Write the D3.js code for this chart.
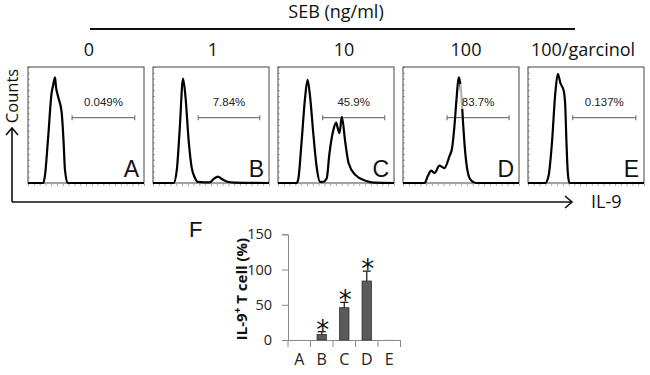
<!DOCTYPE html>
<html>
<head>
<meta charset="utf-8">
<script src="https://cdn.jsdelivr.net/npm/d3@7"></script>
<style>
  body { margin: 0; background: #fff; }
  svg { display: block; font-family: "Open Sans", sans-serif; }
</style>
</head>
<body>
<svg id="fig" width="650" height="375"></svg>
<script>
const panels = ['A', 'B', 'C', 'D', 'E']
const doses = ['0', '1', '10', '100', '100/garcinol']
const gatePct = ['0.049%', '7.84%', '45.9%', '83.7%', '0.137%']
const gateFrom = [38, 39, 38.5, 38, 38.5]
const gateTo = [92, 92, 92, 91.5, 93]

// histogram traces : [IL-9 intensity (0-100 of panel width), counts (% of panel height)]
const histA = [[0, 0], [13.2, 0], [14.7, 7], [17.2, 37], [20.4, 78], [21.6, 84], [23.3, 91], [24.1, 83],
  [26.1, 74], [29, 61], [30.6, 37], [31.9, 11], [34.2, 0], [100, 0]]
const histB = [[0, 0], [17.8, 0], [20.5, 11], [23, 46], [25.9, 90], [28.2, 72], [30.7, 37], [33.4, 13],
  [35.9, 5], [38.8, 1], [48.9, 0.5], [52.3, 3.5], [56, 5.5], [59.2, 3.5], [63.5, 1.3], [70, 0.4], [100, 0]]
const histC = [[0, 0], [15.9, 0], [17.4, 3], [20.3, 35], [23.2, 72], [25.5, 89], [27.6, 75], [30.4, 43],
  [33.3, 14], [36.3, 1], [39, 1], [42, 4], [44.3, 25], [47.8, 46], [50.2, 52], [51.3, 48], [53, 43],
  [55, 57], [58, 35], [60.9, 17], [66.7, 7], [75.4, 2], [82.6, 0.3], [100, 0]]
const histD = [[0, 0], [18.6, 0], [21.4, 6], [24.3, 10.6], [27.2, 8.6], [31.4, 14.9], [35.7, 12.9],
  [40, 22.9], [42.3, 30], [44.3, 48.6], [46.3, 74.3], [48, 91], [49.2, 87], [50.6, 71.4], [52, 48.6],
  [53.7, 25.7], [55.7, 10], [58.6, 2.3], [62.9, 0], [100, 0]]
const histE = [[0, 0], [14.9, 0], [17.7, 6], [20.6, 34], [23.5, 77], [25.7, 94], [28, 86], [30.9, 79],
  [32, 69], [33.2, 34], [34.3, 9], [35.7, 0], [100, 0]]

// panel F
const pctMean = [0.049, 7.84, 45.9, 83.7, 0.137]
const pctErr = [0, 4, 7.5, 14, 0]
const signif = [false, true, true, true, false]
const yTicks = [0, 50, 100, 150]

const svg = d3.select('#fig')
svg.append('rect').attr('width', 650).attr('height', 375).attr('fill', '#fff')

// ---- histogram row ----
const pTop = 67, pBot = 183
const px = d3.scaleBand().domain(panels).range([28, 644]).paddingInner(0.072)
const hx = d3.scaleLinear().domain([0, 100]).range([0, px.bandwidth()])
const hy = d3.scaleLinear().domain([0, 100]).range([pBot - pTop, 0])
const line = d3.line()
  .x(d => hx(d[0]))
  .y(d => hy(d[1]))
  .curve(d3.curveMonotoneX)
const hists = [histA, histB, histC, histD, histE]
const doseDx = [3, 2, 8, 5, -3] // label offsets as in the figure
const gateY = 50.7

panels.forEach((p, i) => {
  const g = svg.append('g').attr('transform', `translate(${px(p)},${pTop})`)

  g.append('g')
    .attr('class', 'minor')
    .attr('transform', `translate(0,${pBot - pTop + 1})`)
    .call(d3.axisBottom(hx).ticks(20).tickSize(2).tickFormat(''))
  g.append('g')
    .attr('class', 'minor')
    .call(d3.axisRight(hy).ticks(20).tickSize(2).tickFormat(''))
  g.selectAll('.minor .domain').remove()
  g.selectAll('.minor line').attr('stroke', '#aaa')

  g.append('rect')
    .attr('width', px.bandwidth())
    .attr('height', pBot - pTop)
    .attr('fill', 'none')
    .attr('stroke', '#444')
    .attr('stroke-width', 1)

  // gate
  const gate = g.append('g').attr('stroke', '#777').attr('stroke-width', 1.2)
  gate.append('line').attr('x1', hx(gateFrom[i])).attr('x2', hx(gateTo[i])).attr('y1', gateY).attr('y2', gateY)
  gate.selectAll('.cap')
    .data([gateFrom[i], gateTo[i]])
    .enter()
    .append('line')
    .attr('x1', d => hx(d)).attr('x2', d => hx(d))
    .attr('y1', gateY - 2.5).attr('y2', gateY + 2.5)

  g.append('path')
    .datum(hists[i])
    .attr('d', line)
    .attr('fill', 'none')
    .attr('stroke', '#000')
    .attr('stroke-width', 2.2)

  const cx = (hx(gateFrom[i]) + hx(gateTo[i])) / 2
  const bg = g.append('rect').attr('fill', '#fff').attr('opacity', 0.7)
  const lbl = g.append('text')
    .attr('x', cx)
    .attr('y', 106 - pTop)
    .attr('text-anchor', 'middle')
    .attr('font-family', 'Liberation Sans, Arial, sans-serif')
    .attr('font-size', 11.5)
    .attr('fill', '#222')
    .text(gatePct[i])
  const bb = lbl.node().getBBox()
  bg.attr('x', bb.x - 2).attr('y', bb.y - 12).attr('width', bb.width + 4).attr('height', bb.height + 13)

  g.append('text')
    .attr('x', px.bandwidth() - 5)
    .attr('y', 177 - pTop)
    .attr('text-anchor', 'end')
    .attr('font-family', 'Liberation Sans, Arial, sans-serif')
    .attr('font-size', 23)
    .attr('fill', '#111')
    .text(p)

  svg.append('text')
    .attr('x', px(p) + px.bandwidth() / 2 + doseDx[i])
    .attr('y', 56)
    .attr('text-anchor', 'middle')
    .attr('font-size', 18)
    .attr('fill', '#111')
    .text(doses[i])
})

svg.append('text')
  .attr('x', 336)
  .attr('y', 18)
  .attr('text-anchor', 'middle')
  .attr('font-size', 18)
  .attr('fill', '#111')
  .text('SEB (ng/ml)')
svg.append('line')
  .attr('x1', 90).attr('x2', 575).attr('y1', 29).attr('y2', 29)
  .attr('stroke', '#111').attr('stroke-width', 2)

// big axes with arrows
const ax = svg.append('g').attr('stroke', '#111').attr('stroke-width', 1.6).attr('fill', 'none')
ax.append('path').attr('d', 'M12,202V128M6,135L12,128L18,135')
ax.append('path').attr('d', 'M12,202H572M565,196L572,202L565,208')
svg.append('text')
  .attr('transform', 'translate(18,96) rotate(-90)')
  .attr('text-anchor', 'middle')
  .attr('font-size', 16.5)
  .attr('fill', '#111')
  .text('Counts')
svg.append('text')
  .attr('x', 591)
  .attr('y', 208)
  .attr('font-size', 18)
  .attr('fill', '#111')
  .text('IL-9')

// ---- bar chart F ----
const fy = d3.scaleLinear().domain([0, 150]).range([340, 234.3])
const fxOuter = d3.scaleBand().domain(panels).range([288, 400.5])
const fx = d3.scaleBand().domain(panels).range([288, 400.5]).paddingInner(0.58).paddingOuter(0.29)

const fg = svg.append('g')
fg.append('g')
  .attr('class', 'y-axis')
  .attr('transform', 'translate(288,0)')
  .call(d3.axisLeft(fy).tickValues(yTicks).tickSize(6).tickPadding(10))
fg.select('.y-axis').selectAll('text').attr('font-size', 14.5).attr('font-family', 'Open Sans').attr('fill', '#222')
fg.select('.y-axis').selectAll('line, path').attr('stroke', '#888')

const xa = fg.append('g')
  .attr('class', 'x-axis')
  .attr('transform', 'translate(0,340)')
  .call(d3.axisBottom(fxOuter).tickSize(0).tickPadding(14))
xa.selectAll('text').attr('font-size', 16).attr('font-family', 'Open Sans').attr('fill', '#222')
xa.select('.domain').attr('stroke', '#888')
xa.selectAll('.sep')
  .data(panels.concat(['end']))
  .enter()
  .append('line')
  .attr('x1', d => d === 'end' ? fxOuter.range()[1] : fxOuter(d))
  .attr('x2', d => d === 'end' ? fxOuter.range()[1] : fxOuter(d))
  .attr('y1', 0).attr('y2', 7)
  .attr('stroke', '#888')

const bars = panels.map((p, i) => ({p: p, v: pctMean[i], e: pctErr[i], s: signif[i]}))
fg.append('g')
  .selectAll('rect')
  .data(bars)
  .enter()
  .append('rect')
  .attr('x', d => fx(d.p))
  .attr('y', d => fy(d.v))
  .attr('width', fx.bandwidth())
  .attr('height', d => fy(0) - fy(d.v))
  .attr('fill', '#5a5a5a')
  .attr('stroke', d => d.v > 1 ? '#333' : 'none')
  .attr('stroke-width', 0.8)

const eb = fg.append('g').attr('stroke', '#222').attr('stroke-width', 1.3)
eb.selectAll('.v')
  .data(bars.filter(d => d.e > 0))
  .enter()
  .append('line')
  .attr('x1', d => fx(d.p) + fx.bandwidth() / 2)
  .attr('x2', d => fx(d.p) + fx.bandwidth() / 2)
  .attr('y1', d => fy(d.v))
  .attr('y2', d => fy(d.v + d.e))
eb.selectAll('.c')
  .data(bars.filter(d => d.e > 0))
  .enter()
  .append('line')
  .attr('x1', d => fx(d.p) + fx.bandwidth() / 2 - 4)
  .attr('x2', d => fx(d.p) + fx.bandwidth() / 2 + 4)
  .attr('y1', d => fy(d.v + d.e))
  .attr('y2', d => fy(d.v + d.e))

fg.selectAll('.star')
  .data(bars.filter(d => d.s))
  .enter()
  .append('text')
  .attr('x', d => fx(d.p) + fx.bandwidth() / 2 + 1)
  .attr('y', d => fy(d.v + d.e) + 7)
  .attr('text-anchor', 'middle')
  .attr('font-family', 'DejaVu Sans, sans-serif')
  .attr('font-size', 26)
  .attr('fill', '#111')
  .text('*')

const yl = fg.append('text')
  .attr('transform', 'translate(247,289) rotate(-90)')
  .attr('text-anchor', 'middle')
  .attr('font-size', 15)
  .attr('font-weight', 'bold')
  .attr('fill', '#111')
yl.append('tspan').text('IL-9')
yl.append('tspan').attr('dy', -6).attr('font-size', 10).text('+')
yl.append('tspan').attr('dy', 6).text(' T cell (%)')

fg.append('text')
  .attr('x', 189)
  .attr('y', 237)
  .attr('font-family', 'Liberation Sans, Arial, sans-serif')
  .attr('font-size', 22)
  .attr('fill', '#111')
  .text('F')
</script>
</body>
</html>
